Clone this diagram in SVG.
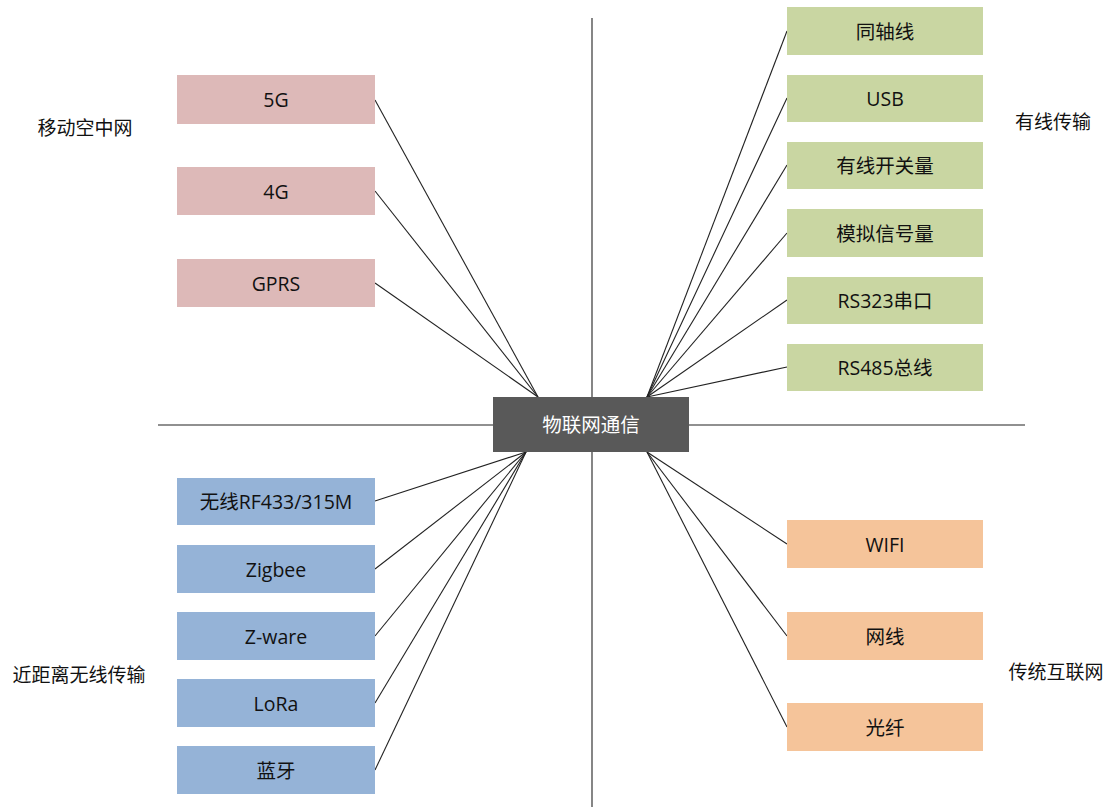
<svg xmlns="http://www.w3.org/2000/svg" width="1109" height="807" viewBox="0 0 1109 807">
<style>
text{font-family:"Open Sans","Noto Sans CJK SC",sans-serif;font-size:19.5px;fill:#111;text-anchor:middle;dominant-baseline:central}
.lbl{font-size:19px}
.pk{fill:#DDB9B8}.gr{fill:#C9D6A2}.bl{fill:#95B3D7}.or{fill:#F5C49A}
.c line{stroke:#222;stroke-width:1.1}
.ax{stroke:#222;stroke-width:1.1}
</style>
<rect width="1109" height="807" fill="#fff"/>
<g id="axes">
<line class="ax" x1="592" y1="18" x2="592" y2="807"/>
<line class="ax" x1="158" y1="425" x2="1025" y2="425"/>
</g>
<g class="c" id="connectors">
<line x1="375" y1="100" x2="538" y2="397"/>
<line x1="375" y1="191" x2="538" y2="397"/>
<line x1="375" y1="283" x2="538" y2="397"/>
<line x1="787" y1="31" x2="647" y2="397"/>
<line x1="787" y1="98" x2="647" y2="397"/>
<line x1="787" y1="165" x2="647" y2="397"/>
<line x1="787" y1="233" x2="647" y2="397"/>
<line x1="787" y1="300" x2="647" y2="397"/>
<line x1="787" y1="367" x2="647" y2="397"/>
<line x1="375" y1="501" x2="526" y2="452"/>
<line x1="375" y1="569" x2="526" y2="452"/>
<line x1="375" y1="636" x2="526" y2="452"/>
<line x1="375" y1="703" x2="526" y2="452"/>
<line x1="375" y1="770" x2="526" y2="452"/>
<line x1="787" y1="544" x2="647" y2="452"/>
<line x1="787" y1="636" x2="647" y2="452"/>
<line x1="787" y1="727" x2="647" y2="452"/>
</g>
<g id="center"><rect x="493" y="397" width="196" height="55" fill="#595959"/><text x="591" y="424.5" style="fill:#fff">物联网通信</text></g>
<g id="n5g"><rect class="pk" x="177" y="75" width="198" height="49"/><text x="276" y="99.5">5G</text></g>
<g id="n4g"><rect class="pk" x="177" y="167" width="198" height="48"/><text x="276" y="191">4G</text></g>
<g id="ngprs"><rect class="pk" x="177" y="259" width="198" height="48"/><text x="276" y="283">GPRS</text></g>
<g id="ncoax"><rect class="gr" x="787" y="7" width="196" height="48"/><text x="885" y="31">同轴线</text></g>
<g id="nusb"><rect class="gr" x="787" y="75" width="196" height="47"/><text x="885" y="98.5">USB</text></g>
<g id="nsw"><rect class="gr" x="787" y="142" width="196" height="47"/><text x="885" y="165.5">有线开关量</text></g>
<g id="nana"><rect class="gr" x="787" y="209" width="196" height="48"/><text x="885" y="233">模拟信号量</text></g>
<g id="nrs323"><rect class="gr" x="787" y="277" width="196" height="47"/><text x="885" y="300.5">RS323串口</text></g>
<g id="nrs485"><rect class="gr" x="787" y="344" width="196" height="47"/><text x="885" y="367.5">RS485总线</text></g>
<g id="nrf"><rect class="bl" x="177" y="478" width="198" height="47"/><text x="276" y="501.5">无线RF433/315M</text></g>
<g id="nzig"><rect class="bl" x="177" y="545" width="198" height="48"/><text x="276" y="569">Zigbee</text></g>
<g id="nzw"><rect class="bl" x="177" y="612" width="198" height="48"/><text x="276" y="636">Z-ware</text></g>
<g id="nlora"><rect class="bl" x="177" y="679" width="198" height="48"/><text x="276" y="703">LoRa</text></g>
<g id="nbt"><rect class="bl" x="177" y="746" width="198" height="48"/><text x="276" y="770">蓝牙</text></g>
<g id="nwifi"><rect class="or" x="787" y="520" width="196" height="48"/><text x="885" y="544">WIFI</text></g>
<g id="nnet"><rect class="or" x="787" y="612" width="196" height="48"/><text x="885" y="636">网线</text></g>
<g id="nfiber"><rect class="or" x="787" y="703" width="196" height="48"/><text x="885" y="727">光纤</text></g>
<g id="labels">
<text class="lbl" x="85" y="128">移动空中网</text>
<text class="lbl" x="1053" y="122">有线传输</text>
<text class="lbl" x="79" y="675">近距离无线传输</text>
<text class="lbl" x="1056" y="672">传统互联网</text>
</g>
</svg>
